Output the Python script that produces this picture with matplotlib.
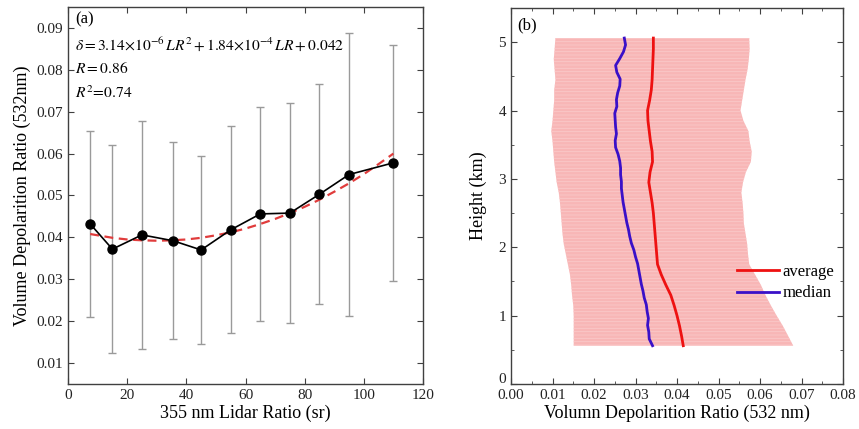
import numpy as np
import matplotlib.pyplot as plt
from matplotlib.transforms import ScaledTranslation

plt.rcParams['font.family'] = ['Liberation Serif', 'DejaVu Serif']
plt.rcParams['mathtext.fontset'] = 'stix'
plt.rcParams['hatch.linewidth'] = 0.6

# ============================================================
# DATA (a): depolarization vs lidar ratio
# ============================================================
lidar_ratio = [7.5, 15, 25, 35.5, 45, 55, 65, 75, 85, 95, 110]
depol_mean = [0.0432, 0.0372, 0.0406, 0.0392, 0.0370, 0.0418, 0.0456, 0.0458, 0.0503, 0.0550, 0.0578]
depol_std = [0.0222, 0.0248, 0.0272, 0.0235, 0.0224, 0.0247, 0.0256, 0.0263, 0.0263, 0.0337, 0.0282]

fit_x = [7.5, 15, 20, 25, 30, 35, 40, 45, 50, 55, 60, 65, 70, 75, 80, 85, 90, 95, 100, 105, 110]
fit_y = [0.0408, 0.0399, 0.0395, 0.0393, 0.0392, 0.0393, 0.0395, 0.0399, 0.0405, 0.0412, 0.0421,
         0.0432, 0.0444, 0.0458, 0.0473, 0.0490, 0.0509, 0.0529, 0.0551, 0.0575, 0.0600]

# ============================================================
# DATA (b): profiles vs height
# ============================================================
height = [0.56, 0.70, 0.85, 1.00, 1.15, 1.30, 1.45, 1.60, 1.75, 1.90, 2.05, 2.20, 2.35, 2.50, 2.65, 2.80,
          2.95, 3.10, 3.25, 3.40, 3.55, 3.70, 3.85, 4.00, 4.15, 4.30, 4.45, 4.60, 4.75, 4.90, 5.06]
range_lo = [0.0151, 0.0151, 0.0151, 0.0151, 0.0150, 0.0147, 0.0145, 0.0142, 0.0137, 0.0132, 0.0127,
            0.0124, 0.0122, 0.0120, 0.0118, 0.0115, 0.0110, 0.0107, 0.0104, 0.0102, 0.0100, 0.0097,
            0.0100, 0.0102, 0.0104, 0.0104, 0.0107, 0.0105, 0.0103, 0.0105, 0.0107]
range_hi = [0.0680, 0.0668, 0.0655, 0.0640, 0.0626, 0.0613, 0.0602, 0.0588, 0.0574, 0.0571, 0.0569,
            0.0565, 0.0561, 0.0560, 0.0558, 0.0555, 0.0559, 0.0566, 0.0578, 0.0580, 0.0575, 0.0572,
            0.0560, 0.0553, 0.0557, 0.0561, 0.0565, 0.0570, 0.0573, 0.0575, 0.0574]
average = [0.0415, 0.0411, 0.0406, 0.0400, 0.0393, 0.0385, 0.0373, 0.0362, 0.0353, 0.0351, 0.0349,
           0.0347, 0.0345, 0.0343, 0.0340, 0.0336, 0.0332, 0.0335, 0.0341, 0.0340, 0.0336, 0.0333,
           0.0330, 0.0329, 0.0334, 0.0338, 0.0340, 0.0341, 0.0342, 0.0343, 0.0343]

height_med = [0.56, 0.66, 0.76, 0.86, 0.96, 1.06, 1.16, 1.26, 1.36, 1.46, 1.56, 1.66, 1.76, 1.86, 1.96,
              2.06, 2.16, 2.26, 2.36, 2.46, 2.56, 2.66, 2.76, 2.86, 2.96, 3.06, 3.16, 3.26, 3.36, 3.46,
              3.56, 3.66, 3.76, 3.86, 3.96, 4.06, 4.16, 4.26, 4.36, 4.46, 4.56, 4.66, 4.76, 4.86, 4.96, 5.06]
median = [0.0341, 0.0333, 0.0332, 0.0329, 0.0331, 0.0328, 0.0326, 0.0321, 0.0318, 0.0314, 0.0311,
          0.0308, 0.0305, 0.0300, 0.0296, 0.0290, 0.0286, 0.0283, 0.0279, 0.0276, 0.0273, 0.0270,
          0.0268, 0.0266, 0.0266, 0.0264, 0.0264, 0.0262, 0.0258, 0.0252, 0.0251, 0.0254, 0.0252,
          0.0251, 0.0250, 0.0255, 0.0254, 0.0257, 0.0262, 0.0263, 0.0255, 0.0252, 0.0262, 0.0271,
          0.0276, 0.0273]

# ============================================================
# FIGURE
# ============================================================
fig = plt.figure(figsize=(8.59, 4.29), dpi=100)
ax1 = fig.add_axes([0.0792, 0.1049, 0.4132, 0.8788])
ax2 = fig.add_axes([0.5949, 0.1049, 0.3865, 0.8765])

spine_col = '#404040'
for ax in (ax1, ax2):
    for s in ax.spines.values():
        s.set_color(spine_col)
        s.set_linewidth(1.0)
    ax.tick_params(which='both', direction='in', top=True, right=True,
                   colors=spine_col, labelcolor='#222222', labelsize=11)
    ax.tick_params(which='major', length=4)
    ax.tick_params(which='minor', length=2.5)

# ---- panel (a)
ax1.errorbar(lidar_ratio, depol_mean, yerr=depol_std, fmt='none',
             ecolor='#9a9a9a', elinewidth=1.0, capsize=3, capthick=1.0, zorder=1)
ax1.plot(fit_x, fit_y, '--', color='#e03c3c', lw=1.6, dashes=(4, 2.5), zorder=2)
ax1.plot(lidar_ratio, depol_mean, '-o', color='black', lw=1.2, ms=6.5, zorder=3)

ax1.set_xlim(0, 120)
ax1.set_ylim(0.005, 0.095)
ax1.set_xticks([0, 20, 40, 60, 80, 100, 120])
ax1.set_yticks([0.01, 0.02, 0.03, 0.04, 0.05, 0.06, 0.07, 0.08, 0.09])
ax1.set_xlabel('355 nm Lidar Ratio (sr)', fontsize=13, labelpad=2)
ax1.set_ylabel('Volume Depolarition Ratio (532nm)', fontsize=13, labelpad=4)

ax1.text(0.02, 0.966, '(a)', transform=ax1.transAxes, fontsize=12, va='center')
ax1.text(0.02, 0.899, r'$\delta = 3.14{\times}10^{-6}\,LR^2 + 1.84{\times}10^{-4}\,LR + 0.042$',
         transform=ax1.transAxes, fontsize=11.2, va='center')
ax1.text(0.02, 0.836, r'$R = 0.86$', transform=ax1.transAxes, fontsize=11.2, va='center')
ax1.text(0.02, 0.769, r'$R^2\!=\!0.74$', transform=ax1.transAxes, fontsize=11.2, va='center')

# ---- panel (b)
ax2.fill_betweenx(height, range_lo, range_hi, facecolor='#f8b6b6', edgecolor='#fac9c9',
                  hatch='-----', linewidth=0, zorder=1)
ax2.plot(average, height, color='#ee1111', lw=2.0, label='average', zorder=3)
ax2.plot(median, height_med, color='#3a10c8', lw=2.0, label='median', zorder=2)

ax2.set_xlim(0, 0.08)
ax2.set_ylim(0, 5.5)
ax2.set_xticks([0.00, 0.01, 0.02, 0.03, 0.04, 0.05, 0.06, 0.07, 0.08])
ax2.set_xticks(np.arange(0.005, 0.08, 0.01), minor=True)
ax2.set_yticks([0, 1, 2, 3, 4, 5])
ax2.set_yticks([0.5, 1.5, 2.5, 3.5, 4.5], minor=True)
ax2.set_xticklabels(['0.00', '0.01', '0.02', '0.03', '0.04', '0.05', '0.06', '0.07', '0.08'])
ax2.set_xlabel('Volumn Depolarition Ratio (532 nm)', fontsize=13, labelpad=2)
ax2.set_ylabel('Height (km)', fontsize=13, labelpad=8)
ax2.text(0.02, 0.955, '(b)', transform=ax2.transAxes, fontsize=12, va='center')

# nudge the y "0" label up so it sits above "0.00"
ylab0 = ax2.get_yticklabels()[0]
ylab0.set_transform(ylab0.get_transform() + ScaledTranslation(0, 4 / 72, fig.dpi_scale_trans))

ax2.legend(loc='center left', bbox_to_anchor=(0.662, 0.27), frameon=False, fontsize=12,
           handlelength=2.5, handletextpad=0.2, labelspacing=0.35, borderaxespad=0)

fig.savefig('out.png', dpi=100)
